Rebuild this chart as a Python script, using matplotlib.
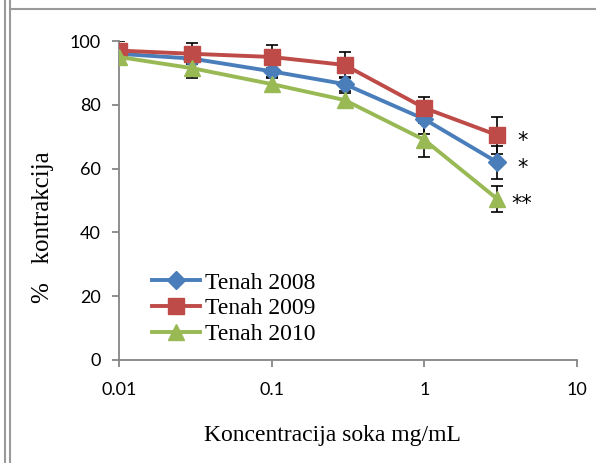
import matplotlib
matplotlib.use("Agg")
import matplotlib.pyplot as plt
from matplotlib.lines import Line2D
from matplotlib.ticker import FixedLocator, NullLocator

# Data
conc = [0.01, 0.03, 0.1, 0.3, 1, 3]
series_names = ["Tenah 2008", "Tenah 2009", "Tenah 2010"]
tenah_2008 = [96, 94.5, 90.5, 86.5, 75.5, 62]
tenah_2009 = [97, 96, 95, 92.5, 79, 70.5]
tenah_2010 = [95, 91.5, 86.5, 81.5, 69, 50.5]
err_2008 = [1.0, 1.5, 2.2, 2.3, 4.7, 5.2]
err_2009 = [3.0, 3.3, 3.6, 4.0, 3.5, 5.8]
err_2010 = [2.0, 3.0, 2.3, 2.3, 5.3, 4.2]
stars = ["*", "*", "**"]
x_ticks = [0.01, 0.1, 1, 10]
x_tick_labels = ["0.01", "0.1", "1", "10"]
y_ticks = [0, 20, 40, 60, 80, 100]

colors = ["#4A7EBB", "#BE4B48", "#98B954"]
markers = ["D", "s", "^"]
msizes = [9, 11, 11]

fig = plt.figure(figsize=(5.96, 4.63), dpi=100)
ax = fig.add_axes([0.1997, 0.2225, 0.7685, 0.6889])

all_vals = [tenah_2008, tenah_2009, tenah_2010]
all_errs = [err_2008, err_2009, err_2010]

for vals, errs in zip(all_vals, all_errs):
    ax.errorbar(conc, vals, yerr=errs, fmt="none", ecolor="black",
                elinewidth=1.2, capsize=4, capthick=1.2, zorder=2)
for vals, c, m, ms, name in zip(all_vals, colors, markers, msizes, series_names):
    ax.plot(conc, vals, color=c, lw=2.8, marker=m, markersize=ms,
            markeredgecolor=c, label=name, zorder=3)

# significance stars next to the last point of each series
star_order = [1, 0, 2]
for i, s in zip(star_order, stars):
    ax.annotate(s, xy=(conc[-1], all_vals[i][-1]), xytext=(18, -4),
                textcoords="offset points", ha="center", va="center",
                fontsize=15, family="DejaVu Sans")

ax.set_xscale("log")
ax.set_xlim(0.01, 10)
ax.set_ylim(0, 100)
ax.xaxis.set_major_locator(FixedLocator(x_ticks))
ax.xaxis.set_minor_locator(NullLocator())
ax.set_xticklabels(x_tick_labels)
ax.set_yticks(y_ticks)

for side in ["top", "right"]:
    ax.spines[side].set_visible(False)
for side in ["left", "bottom"]:
    ax.spines[side].set_color("#868686")
    ax.spines[side].set_linewidth(1.3)
ax.tick_params(axis="both", direction="out", length=5, width=1.3,
               color="#868686", labelsize=13)
ax.tick_params(axis="x", pad=11)
ax.tick_params(axis="y", pad=8)
for lab in ax.get_xticklabels() + ax.get_yticklabels():
    lab.set_family("Lato")

ax.set_xlabel("Koncentracija soka mg/mL", family="Liberation Serif",
              fontsize=17)
ax.xaxis.set_label_coords(0.466, -0.205)
ax.set_ylabel("%   kontrakcija", family="Liberation Serif", fontsize=18)
ax.yaxis.set_label_coords(-0.142, 0.415)

leg_handles = [Line2D([0], [0], color=c, lw=2.8, marker=m, markersize=ms,
                      markeredgecolor=c)
               for c, m, ms in zip(colors, markers, msizes)]
ax.legend(leg_handles, series_names, loc="lower left",
          bbox_to_anchor=(0.025, -0.02), frameon=False,
          prop={"family": "Liberation Serif", "size": 17},
          handlelength=2.05, handletextpad=0.2, labelspacing=0.18)

# outer frame of the original document
for xx in [0.008, 0.016]:
    fig.add_artist(Line2D([xx, xx], [0, 1], color="#9a9a9a", lw=1.5,
                          transform=fig.transFigure))
fig.add_artist(Line2D([0.016, 1], [0.98, 0.98], color="#9a9a9a", lw=1.5,
                      transform=fig.transFigure))

fig.savefig("out.png", dpi=100)
